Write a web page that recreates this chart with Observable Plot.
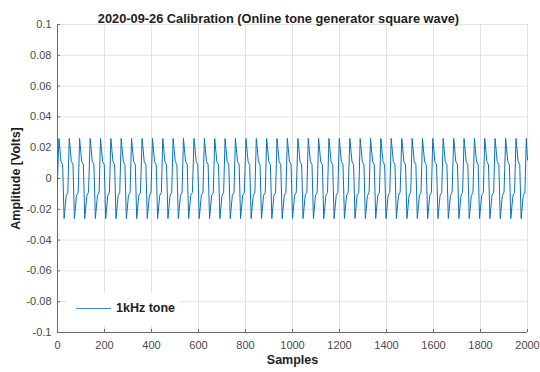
<!DOCTYPE html>
<html><head><meta charset="utf-8">
<script src="https://cdn.jsdelivr.net/npm/d3@7"></script>
<script src="https://cdn.jsdelivr.net/npm/@observablehq/plot@0.6"></script>
<style>
body{margin:0;background:#fff;}
#wrap{position:relative;width:540px;height:372px;font-family:"Liberation Sans",Arial,sans-serif;}
#legend{position:absolute;left:66px;top:292px;width:114px;height:34px;background:#fff;}
#legend .sw{position:absolute;left:10px;top:16px;width:35px;height:0;border-top:1px solid #3d8fd0;}
#legend .lb{position:absolute;left:50px;top:8px;font-weight:bold;font-size:12.5px;color:#222;line-height:16px;}
</style></head><body>
<div id="wrap"></div>
<script>
// Sample indices of the positive peaks and negative troughs
const peakSamples = [6,50,94,139,183,227,271,315,360,404,448,492,536,581,625,669,713,757,802,846,890,934,978,1023,1067,1111,1155,1199,1244,1288,1332,1376,1420,1465,1509,1553,1597,1641,1686,1730,1774,1818,1862,1907,1951,1995];
const troughSamples = [28,72,116,161,205,249,293,337,382,426,470,514,558,603,647,691,735,779,824,868,912,956,1000,1045,1089,1133,1177,1221,1266,1310,1354,1398,1442,1487,1531,1575,1619,1663,1708,1752,1796,1840,1884,1929,1973];
const peakLevel = 0.026;
const troughLevel = -0.026;
const kinkOffsets = [9, 16];
const upperKinkLevels = [0.011, 0.009];
const lowerKinkLevels = [-0.011, -0.009];
const startPoint = {x: 0, y: 0.0};
const endPoint = {x: 2000, y: 0.012};
const xTicks = [0,200,400,600,800,1000,1200,1400,1600,1800,2000];
const yTicks = [-0.1,-0.08,-0.06,-0.04,-0.02,0,0.02,0.04,0.06,0.08,0.1];
const yTickLabels = ["-0.1","-0.08","-0.06","-0.04","-0.02","0","0.02","0.04","0.06","0.08","0.1"];
const seriesName = "1kHz tone";
const titleText = "2020-09-26 Calibration (Online tone generator square wave)";
const xLabel = "Samples";
const yLabel = "Amplitude [Volts]";

const pts = [startPoint];
peakSamples.forEach(p => {
  pts.push({x: p, y: peakLevel});
  kinkOffsets.forEach((o, i) => pts.push({x: p + o, y: upperKinkLevels[i]}));
});
troughSamples.forEach(t => {
  pts.push({x: t, y: troughLevel});
  kinkOffsets.forEach((o, i) => pts.push({x: t + o, y: lowerKinkLevels[i]}));
});
const series = pts.filter(d => d.x < 2000).sort((a, b) => a.x - b.x);
series.push(endPoint);

const axisColor = "#6b6b6b";
const chart = Plot.plot({
  width: 540, height: 372,
  marginLeft: 57, marginRight: 13, marginTop: 24, marginBottom: 40,
  style: {fontFamily: '"Liberation Sans", Arial, sans-serif', fontSize: "11px", color: "#4a4a4a", background: "#fff"},
  x: {domain: [0, 2000]},
  y: {domain: [-0.1, 0.1]},
  marks: [
    Plot.gridX(xTicks, {stroke: "#e3e3e3", strokeOpacity: 1}),
    Plot.gridY(yTicks, {stroke: "#e3e3e3", strokeOpacity: 1}),
    Plot.axisX({ticks: xTicks, tickSize: 3, dy: -3, tickFormat: () => "", label: null, stroke: axisColor}),
    Plot.axisX({ticks: xTicks, tickSize: 0, tickPadding: 9, label: null, tickFormat: d => String(d)}),
    Plot.axisY({ticks: yTicks, tickSize: 3, dx: 3, tickFormat: () => "", label: null, stroke: axisColor}),
    Plot.axisY({ticks: yTicks, tickSize: 0, tickPadding: 6, label: null, tickFormat: d => yTickLabels[yTicks.indexOf(d)]}),
    Plot.ruleY([-0.1], {stroke: axisColor}),
    Plot.ruleX([0], {stroke: axisColor}),
    Plot.line(series, {x: "x", y: "y", stroke: "#0a72bb", strokeWidth: 1}),
    Plot.text([titleText], {frameAnchor: "top", dx: -14, dy: -11, fontWeight: "bold", fontSize: 12.8, fill: "#1e1e1e"}),
    Plot.text([xLabel], {frameAnchor: "bottom", dy: 31, fontWeight: "bold", fontSize: 12.5, fill: "#1e1e1e"}),
    Plot.text([yLabel], {frameAnchor: "left", textAnchor: "middle", dx: -42, rotate: -90, fontWeight: "bold", fontSize: 12.5, fill: "#1e1e1e"})
  ]
});
const wrap = document.getElementById("wrap");
wrap.appendChild(chart);
const lg = document.createElement("div");
lg.id = "legend";
lg.innerHTML = '<div class="sw"></div><div class="lb"></div>';
lg.querySelector(".lb").textContent = seriesName;
wrap.appendChild(lg);
</script>
</body></html>
